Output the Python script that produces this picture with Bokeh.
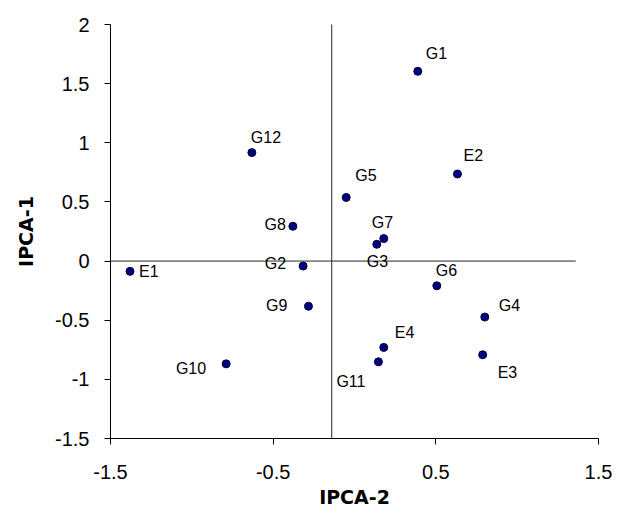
from bokeh.plotting import figure
from bokeh.models import ColumnDataSource, LabelSet, FixedTicker
from bokeh.core.properties import value
from bokeh.embed import file_html
from bokeh.resources import INLINE

# ---- data ----
names = ["E1", "E2", "E3", "E4", "G1", "G2", "G3", "G4", "G5", "G6", "G7", "G8", "G9", "G10", "G11", "G12"]
ipca2 = [-1.38, 0.633, 0.788, 0.180, 0.389, -0.316, 0.137, 0.801, -0.051, 0.506, 0.180, -0.379, -0.283, -0.789, 0.147, -0.631]
ipca1 = [-0.087, 0.736, -0.792, -0.730, 1.604, -0.042, 0.142, -0.473, 0.538, -0.209, 0.190, 0.294, -0.382, -0.869, -0.852, 0.917]

x_ticks = [-1.5, -0.5, 0.5, 1.5]
x_tick_labels = ["-1.5", "-0.5", "0.5", "1.5"]
y_ticks = [2, 1.5, 1, 0.5, 0, -0.5, -1, -1.5]
y_tick_labels = ["2", "1.5", "1", "0.5", "0", "-0.5", "-1", "-1.5"]

cross_x = -0.14      # vertical reference line (IPCA-2 value)
cross_y = 0.0        # horizontal reference line (IPCA-1 value)
hline_end = 1.36

# ---- label placement (screen pixel offsets, style only) ----
label_layout = {
    "E1": (9, 0, "left"), "G12": (-1, 15, "left"), "G8": (-7, 2, "right"),
    "G2": (-17, 3, "right"), "G9": (-21, 1, "right"), "G10": (-20, -5, "right"),
    "G1": (8, 18, "left"), "E2": (6, 19, "left"), "G5": (9, 22, "left"),
    "G7": (-12, 16, "left"), "G3": (-10, -17, "left"), "G6": (-1, 15, "left"),
    "G4": (14, 12, "left"), "E3": (15, -18, "left"), "E4": (11, 15, "left"),
    "G11": (-42, -20, "left"),
}

src = ColumnDataSource(dict(
    x=ipca2, y=ipca1, name=names,
    dx=[label_layout[n][0] for n in names],
    dy=[label_layout[n][1] for n in names],
    align=[label_layout[n][2] for n in names],
))

FONT = "Liberation Sans"

p = figure(
    output_backend="svg", toolbar_location=None,
    frame_width=488, frame_height=414,
    min_border_left=110, min_border_right=14, min_border_top=24, min_border_bottom=77,
    x_range=(-1.5, 1.5), y_range=(-1.5, 2),
    background_fill_color="white", border_fill_color="white",
)
p.outline_line_color = None
p.grid.visible = False

# reference cross lines
p.segment(x0=[cross_x], y0=[-1.5], x1=[cross_x], y1=[2.1], line_color="#262626", line_width=1)
p.segment(x0=[-1.5], y0=[cross_y], x1=[hline_end], y1=[cross_y], line_color="#262626", line_width=1)

p.scatter("x", "y", source=src, size=8, fill_color="#000080", line_color="#000033", line_width=1)

labels = LabelSet(x="x", y="y", text="name", source=src, x_offset="dx", y_offset="dy",
                  text_align="align", text_baseline="middle",
                  text_font=value(FONT), text_font_size=value("16px"), text_color=value("black"))
p.add_layout(labels)

for ax in (p.xaxis[0], p.yaxis[0]):
    ax.major_label_text_font = FONT
    ax.major_label_text_font_size = "20px"
    ax.major_label_text_color = "black"
    ax.axis_line_color = "black"
    ax.major_tick_line_color = "black"
    ax.major_tick_in = 0
    ax.major_tick_out = 6
    ax.minor_tick_line_color = None
    ax.axis_label_text_font = "DejaVu Sans"
    ax.axis_label_text_font_style = "bold"
    ax.axis_label_text_font_size = "19px"
    ax.axis_label_text_color = "black"

p.xaxis.ticker = FixedTicker(ticks=x_ticks)
p.xaxis.major_label_overrides = {t: l for t, l in zip(x_ticks, x_tick_labels)}
p.yaxis.ticker = FixedTicker(ticks=y_ticks)
p.yaxis.major_label_overrides = {t: l for t, l in zip(y_ticks, y_tick_labels)}
p.xaxis.axis_label = "IPCA-2"
p.yaxis.axis_label = "IPCA-1"
p.xaxis.major_label_standoff = 20
p.yaxis.major_label_standoff = 15
p.xaxis.axis_label_standoff = 4
p.yaxis.axis_label_standoff = 15

open("out.html", "w").write(file_html(p, INLINE))
